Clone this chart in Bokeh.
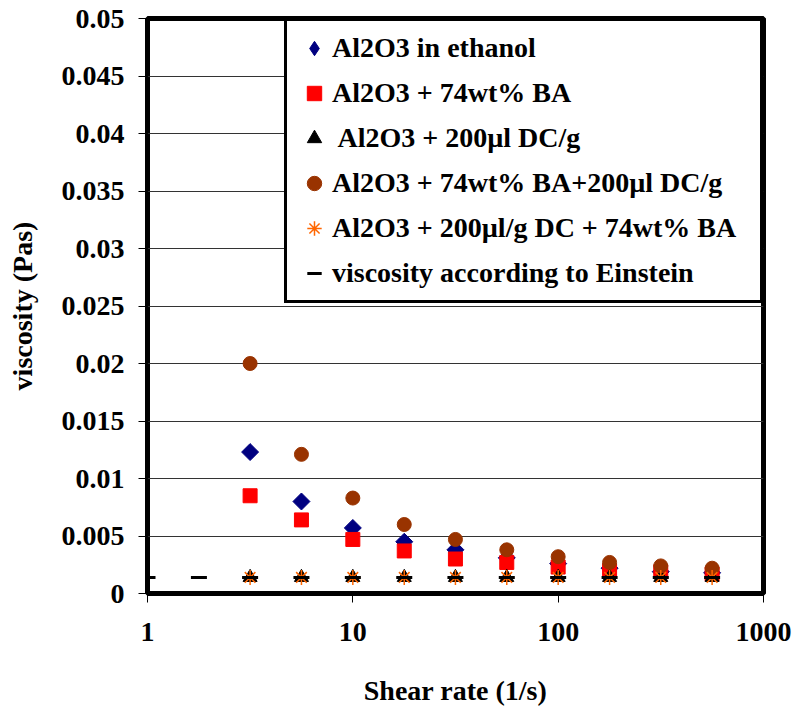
import math
from bokeh.plotting import figure
from bokeh.models import FixedTicker, Legend, LegendItem, Range1d
from bokeh.embed import file_html
from bokeh.resources import INLINE

# ---- data ----
shear_rate = [3.16, 5.62, 10.0, 17.8, 31.6, 56.2, 100.0, 178.0, 316.0, 562.0]
ethanol = [0.0123, 0.0080, 0.0057, 0.0045, 0.0038, 0.0031, 0.0026, 0.0022, 0.0019, 0.0018]
ba74 = [0.0085, 0.0064, 0.0047, 0.0037, 0.0030, 0.0027, 0.0023, 0.0020, 0.0019, 0.0017]
dc200 = [0.0014, 0.0014, 0.0014, 0.0014, 0.0014, 0.0014, 0.0014, 0.0014, 0.0014, 0.0014]
ba_dc = [0.0200, 0.0121, 0.0083, 0.0060, 0.0047, 0.0038, 0.0032, 0.0027, 0.0024, 0.0022]
dc_ba = [0.0014, 0.0014, 0.0014, 0.0014, 0.0014, 0.0014, 0.0014, 0.0014, 0.0014, 0.0014]
einstein_x = [1.0, 1.78, 3.16, 5.62, 10.0, 17.8, 31.6, 56.2, 100.0, 178.0, 316.0, 562.0]
einstein_y = [0.0014, 0.0014, 0.0014, 0.0014, 0.0014, 0.0014, 0.0014, 0.0014, 0.0014, 0.0014, 0.0014, 0.0014]

series_labels = [
    "Al2O3 in ethanol",
    "Al2O3 + 74wt% BA",
    " Al2O3 + 200\u00b5l DC/g",
    "Al2O3 + 74wt% BA+200\u00b5l DC/g",
    "Al2O3 + 200\u00b5l/g DC + 74wt% BA",
    "viscosity according to Einstein",
]

x_ticks = [1, 10, 100, 1000]
x_tick_labels = ["1", "10", "100", "1000"]
y_ticks = [0, 0.005, 0.01, 0.015, 0.02, 0.025, 0.03, 0.035, 0.04, 0.045, 0.05]
y_tick_labels = ["0", "0.005", "0.01", "0.015", "0.02", "0.025", "0.03", "0.035", "0.04", "0.045", "0.05"]

FONT = "Liberation Serif"

p = figure(width=793, height=708, x_axis_type="log",
           x_range=Range1d(1, 1000), y_range=Range1d(0, 0.05),
           output_backend="svg", toolbar_location=None,
           min_border_left=147, min_border_right=30,
           min_border_top=18, min_border_bottom=113)

p.outline_line_color = "black"
p.outline_line_width = 5
p.background_fill_color = "white"
p.border_fill_color = "white"

# grid
p.xgrid.grid_line_color = None
p.ygrid.grid_line_color = "#333333"
p.ygrid.grid_line_width = 1
p.ygrid.ticker = FixedTicker(ticks=y_ticks)

# axes
p.xaxis.ticker = FixedTicker(ticks=x_ticks)
p.xaxis.major_label_overrides = {t: l for t, l in zip(x_ticks, x_tick_labels)}
p.yaxis.ticker = FixedTicker(ticks=y_ticks)
p.yaxis.major_label_overrides = {t: l for t, l in zip(y_ticks, y_tick_labels)}

for ax in (p.xaxis[0], p.yaxis[0]):
    ax.axis_line_color = None
    ax.major_tick_in = 0
    ax.major_tick_out = 9
    ax.major_tick_line_color = "black"
    ax.major_tick_line_width = 1
    ax.minor_tick_line_color = None
    ax.major_label_text_font = FONT
    ax.major_label_text_font_style = "bold"
    ax.major_label_text_font_size = "28px"
    ax.major_label_text_color = "black"
    ax.axis_label_text_font = FONT
    ax.axis_label_text_font_style = "bold"
    ax.axis_label_text_font_size = "28px"
    ax.axis_label_text_color = "black"

p.xaxis.axis_label = "Shear rate (1/s)"
p.yaxis.axis_label = "viscosity (Pas)"
p.xaxis.major_label_standoff = 20
p.yaxis.major_label_standoff = 14
p.xaxis.axis_label_standoff = 31
p.yaxis.axis_label_standoff = 21

# legend key for the first series: a plain diamond, hidden under the rotated squares
r1_key = p.scatter(shear_rate, ethanol, marker="diamond", size=14,
                   fill_color="#000080", line_color="#000080")

# glyphs (drawn in series order, later on top)
r1 = p.scatter(shear_rate, ethanol, marker="square", angle=math.pi / 4, size=12,
               fill_color="#000080", line_color="#000080")
r2 = p.scatter(shear_rate, ba74, marker="square", size=14,
               fill_color="#FF0000", line_color="#FF0000")
r3 = p.scatter(shear_rate, dc200, marker="triangle", size=14,
               fill_color="black", line_color="black")
r4 = p.scatter(shear_rate, ba_dc, marker="circle", size=14,
               fill_color="#993300", line_color="#993300")
r5 = p.scatter(shear_rate, dc_ba, marker="asterisk", size=15,
               line_color="#FF6600", line_width=1.5)
r6 = p.scatter(einstein_x, einstein_y, marker="dash", size=16,
               line_color="black", line_width=3)

legend = Legend(items=[LegendItem(label=l, renderers=[r])
                       for l, r in zip(series_labels, [r1_key, r2, r3, r4, r5, r6])],
                location="top_right")
legend.margin = 0
legend.padding = 9
legend.spacing = 9
legend.glyph_width = 36
legend.glyph_height = 36
legend.label_height = 36
legend.label_standoff = 0
legend.label_width = 419
legend.label_text_font = FONT
legend.label_text_font_style = "bold"
legend.label_text_font_size = "28px"
legend.label_text_color = "black"
legend.border_line_color = "black"
legend.border_line_width = 3
legend.border_line_alpha = 1.0
legend.background_fill_color = "white"
legend.background_fill_alpha = 1.0
p.add_layout(legend)

open("out.html", "w").write(file_html(p, INLINE))
